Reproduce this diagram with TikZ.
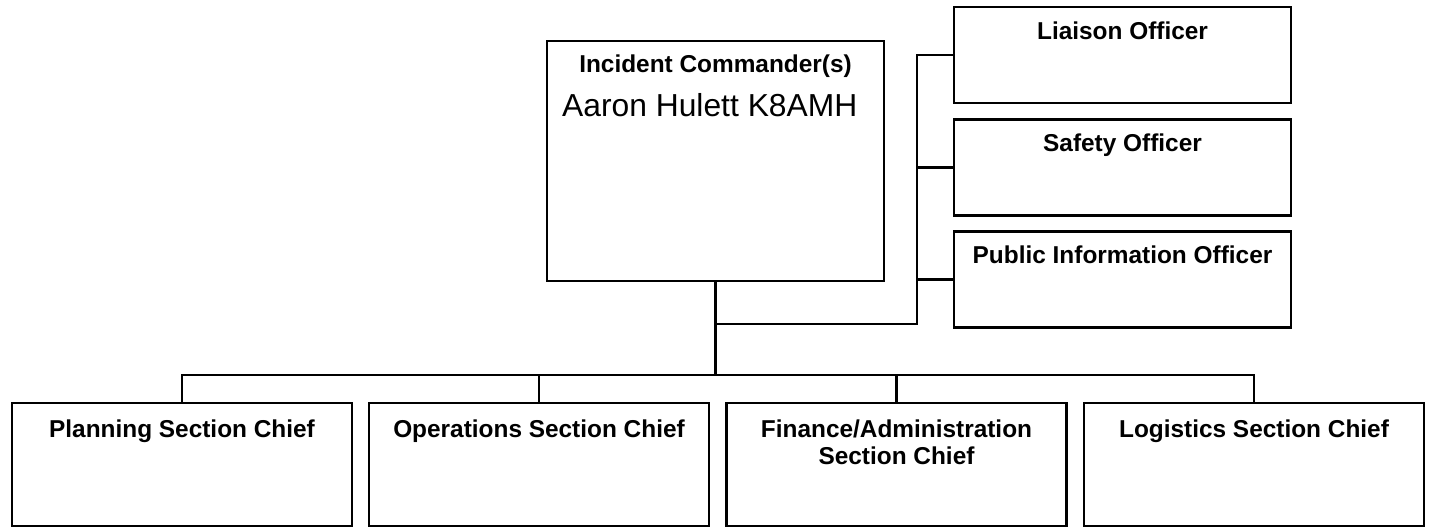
\documentclass[tikz,border=0pt]{standalone}
\usepackage{fontspec}
\usepackage{tikz}
\usetikzlibrary{positioning}
\usetikzlibrary{calc}
\setmainfont{Liberation Sans}

\tikzset{
    box/.style={draw, line width=1.2pt, minimum width=168.5pt, minimum height=48pt, inner sep=0pt},
    title/.style={font=\bfseries\fontsize{12.2}{13.5}\selectfont, align=center, anchor=base, inner sep=0pt},
    wire/.style={line width=1.1pt}
}

\begin{document}
\begin{tikzpicture}[x=0.5pt, y=-0.5pt]
    \useasboundingbox (0, 0) rectangle (1429, 529);

    \node [box, minimum height=120pt] (ic) at (715.5, 161) {};
    \node [box] (liaison) at (1122.5, 55) {};
    \node [box] (safety) at (1122.5, 167.5) {};
    \node [box] (pio) at (1122.5, 279.5) {};

    \node [box, minimum width=170pt, minimum height=61.5pt] (plan) at (182, 464.5) {};
    \node [box, minimum width=170pt, minimum height=61.5pt] (ops) at (539, 464.5) {};
    \node [box, minimum width=170pt, minimum height=61.5pt] (fin) at (896.5, 464.5) {};
    \node [box, minimum width=170pt, minimum height=61.5pt] (logi) at (1254, 464.5) {};

    \node [title] (ictitle) at ([yshift=-16.5pt]ic.north) {Incident Commander(s)};
    \node [anchor=base west, inner sep=0pt, font=\fontsize{15.9}{18}\selectfont] (icname) at ([xshift=8pt, yshift=-38.5pt]ic.north west) {Aaron Hulett K8AMH};
    \node [title] (liaisontitle) at ([yshift=-17pt]liaison.north) {Liaison Officer};
    \node [title] (safetytitle) at ([yshift=-16.5pt]safety.north) {Safety Officer};
    \node [title] (piotitle) at ([yshift=-16.5pt]pio.north) {Public Information Officer};
    \node [title] (plantitle) at ([yshift=-18pt]plan.north) {Planning Section Chief};
    \node [title] (opstitle) at ([yshift=-18pt]ops.north) {Operations Section Chief};
    \node [title] (fintitle) at ([yshift=-31.5pt]fin.north) {Finance/Administration\\Section Chief};
    \node [title] (logititle) at ([yshift=-18pt]logi.north) {Logistics Section Chief};

    \coordinate (bus) at (715.5, 375);
    \coordinate (staff) at (917, 324);

    \draw [wire, line width=1.5pt] (ic.south) -- (bus);
    \draw [wire] (plan.north) -- (plan.north |- bus) -- (logi.north |- bus) -- (logi.north);
    \foreach \n in {ops, fin}
        \draw [wire] (\n.north) -- (\n.north |- bus);

    \draw [wire] (ic.south |- staff) -- (staff) -- (staff |- liaison.west) -- (liaison.west);
    \foreach \n in {safety, pio}
        \draw [wire] (\n.west) -- (\n.west -| staff);
\end{tikzpicture}
\end{document}
